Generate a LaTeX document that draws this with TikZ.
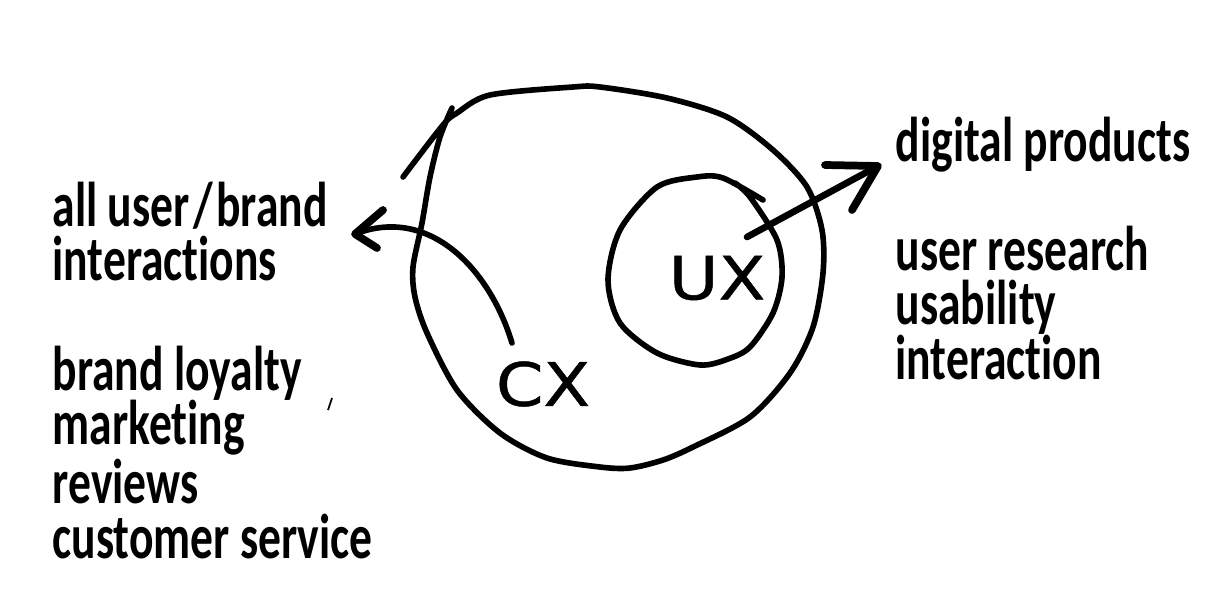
\documentclass[tikz,border=0pt]{standalone}
\usepackage{fontspec}
\newfontfamily\handfont[FakeStretch=0.72,Ligatures=NoCommon]{Carlito}
\newfontfamily\capsfont[FakeStretch=1.14,FakeBold=0.8]{DejaVu Sans}
\usetikzlibrary{positioning}

\begin{document}
\begin{tikzpicture}[x=0.01cm,y=-0.01cm]

          \tikzstyle{sketchLine} = [line width=1.6pt, line cap=round, line join=round];
          \tikzstyle{barbLine} = [sketchLine, line width=2.2pt];
          \tikzstyle{sideText} = [inner sep=0pt, anchor=north west, align=left, font=\fontsize{18}{15.6}\selectfont\handfont\bfseries];
          \tikzstyle{bigText} = [inner sep=0pt, font=\fontsize{17}{20}\selectfont\capsfont];

          \useasboundingbox (0,0) rectangle (1210,600);

          \node[bigText] (cx) at (543,384) {CX};
          \node[bigText] (ux) at (717,278) {UX};

          \node[sideText] (interactions) at (52,181) {all user\kern1pt/\kern1ptbrand\\interactions};
          \node[sideText] (loyalty) at (52,345) {brand loyalty\\marketing\\reviews\\customer service};
          \node[sideText] (digital) at (895,116) {digital products};
          \node[sideText] (research) at (895,225) {user research\\usability\\interaction};

          \coordinate (cxStart) at (512,343);
          \coordinate (cxTip) at (355,234);
          \coordinate (cxBarbUp) at (383,210);
          \coordinate (cxBarbDown) at (377,248);
          \coordinate (uxStart) at (747,237);
          \coordinate (uxTip) at (878,166);
          \coordinate (uxBarbUp) at (825,165);
          \coordinate (uxBarbDown) at (852,210);

          % outer loop
          \draw[sketchLine] plot[smooth] coordinates {(452,108) (440,137) (430,177) (422,223) (413,267) (415,297) (427,333) (457,390) (500,433) (547,458) (600,467) (630,468) (663,460) (693,447) (750,417) (790,373) (813,327) (823,273) (822,230) (807,187) (773,150) (727,117) (667,98) (600,87) (573,87) (490,95) (457,113) (443,125) (403,177)};

          % inner loop
          \draw[sketchLine] plot[smooth] coordinates {(735,183) (750,197) (777,240) (782,277) (773,313) (750,347) (728,359) (700,365) (657,353) (620,323) (608,280) (620,230) (657,187) (697,177) (723,178) (763,200)};

          % stray mark
          \draw[line width=0.5pt] (332,398) -- (328,410);

          \draw[sketchLine] (cxStart) .. controls (490,270) and (430,205) .. (cxTip);
          \draw[barbLine] (cxBarbUp) -- (cxTip) -- (cxBarbDown);
          \draw[sketchLine, line width=1.9pt] (uxStart) -- (uxTip);
          \draw[barbLine] (uxBarbUp) -- (uxTip) -- (uxBarbDown);

\end{tikzpicture}
\end{document}
